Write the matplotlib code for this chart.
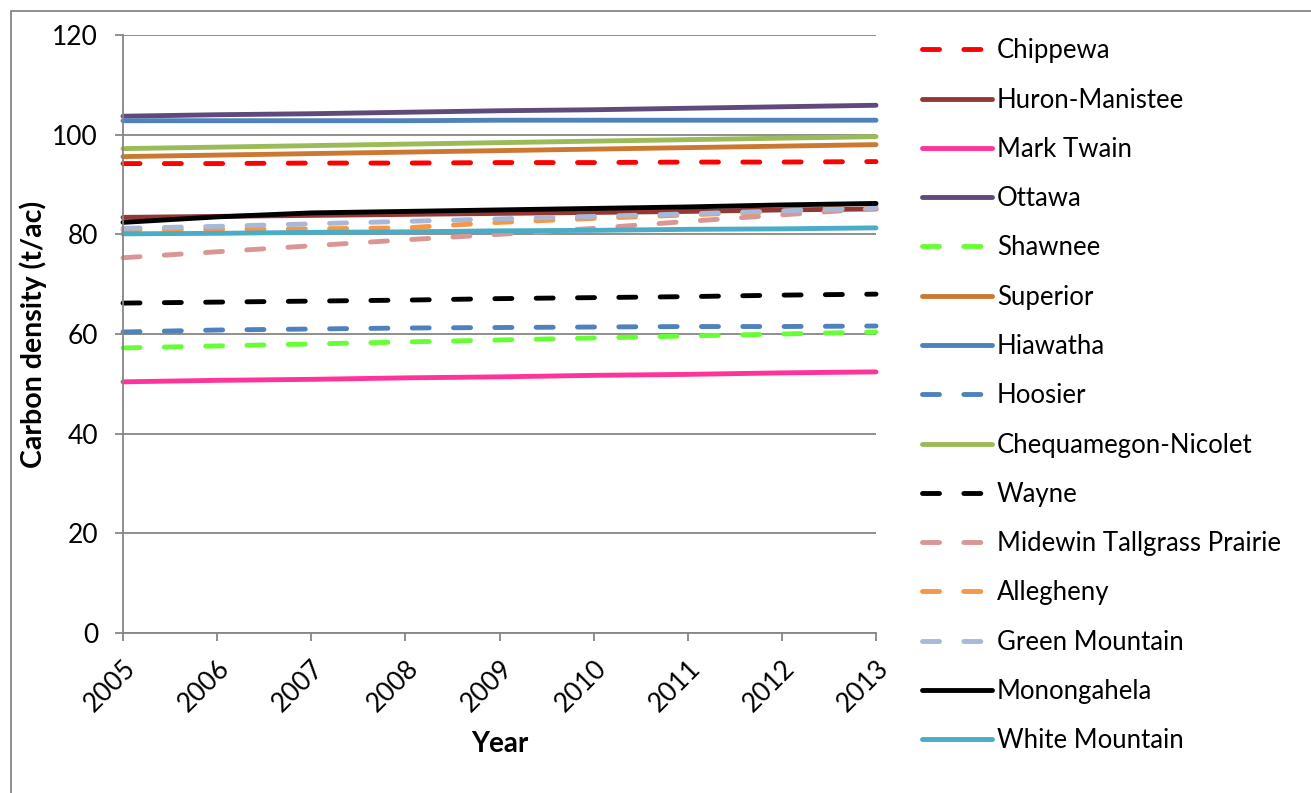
import matplotlib
matplotlib.use('Agg')
import matplotlib.pyplot as plt
from matplotlib.patches import Rectangle

plt.rcParams['font.family'] = ['Lato', 'DejaVu Sans']

years = [2005, 2006, 2007, 2008, 2009, 2010, 2011, 2012, 2013]

forests = ['Chippewa', 'Huron-Manistee', 'Mark Twain', 'Ottawa', 'Shawnee',
           'Superior', 'Hiawatha', 'Hoosier', 'Chequamegon-Nicolet', 'Wayne',
           'Midewin Tallgrass Prairie', 'Allegheny', 'Green Mountain',
           'Monongahela', 'White Mountain']

chippewa = [94.2, 94.2, 94.3, 94.3, 94.4, 94.4, 94.5, 94.5, 94.6]
huron_manistee = [83.4, 83.6, 83.8, 84.0, 84.2, 84.4, 84.6, 84.9, 85.1]
mark_twain = [50.4, 50.7, 50.9, 51.2, 51.4, 51.7, 51.9, 52.2, 52.4]
ottawa = [103.7, 104.0, 104.2, 104.5, 104.8, 105.0, 105.3, 105.6, 105.9]
shawnee = [57.2, 57.6, 58.0, 58.4, 58.8, 59.2, 59.6, 60.0, 60.4]
superior = [95.6, 95.9, 96.2, 96.5, 96.8, 97.1, 97.4, 97.7, 98.0]
hiawatha = [102.8, 102.8, 102.8, 102.8, 102.9, 102.9, 102.9, 102.9, 102.9]
hoosier = [60.4, 60.8, 61.0, 61.2, 61.3, 61.4, 61.5, 61.5, 61.6]
chequamegon = [97.2, 97.5, 97.8, 98.1, 98.4, 98.7, 99.0, 99.3, 99.6]
wayne = [66.2, 66.4, 66.6, 66.8, 67.1, 67.3, 67.5, 67.8, 68.0]
midewin = [75.3, 76.5, 77.7, 78.9, 80.0, 81.2, 82.6, 83.9, 85.2]
allegheny = [80.9, 81.0, 81.1, 81.3, 82.4, 83.2, 83.9, 84.6, 85.8]
green_mountain = [81.2, 81.6, 82.1, 82.6, 83.1, 83.6, 84.1, 84.7, 85.3]
monongahela = [82.4, 83.5, 84.3, 84.6, 84.9, 85.2, 85.5, 85.9, 86.2]
white_mountain = [80.1, 80.2, 80.4, 80.5, 80.7, 80.8, 81.0, 81.1, 81.3]

series = [chippewa, huron_manistee, mark_twain, ottawa, shawnee, superior,
          hiawatha, hoosier, chequamegon, wayne, midewin, allegheny,
          green_mountain, monongahela, white_mountain]

colors = ['#FF0000', '#953735', '#FF3399', '#604A7B', '#66FF33', '#CC7832',
          '#4F81BD', '#4F81BD', '#9BBB59', '#000000', '#D99694', '#F79646',
          '#A6B9D9', '#000000', '#4BACC6']
dashed = [True, False, False, False, True, False,
          False, True, False, True, True, True,
          True, False, False]

fig = plt.figure(figsize=(13.11, 7.93), dpi=100)
ax = fig.add_axes([123 / 1311, 1 - 633 / 793, (876 - 123) / 1311, (633 - 35) / 793])

for name, vals, c, d in zip(forests, series, colors, dashed):
    if d:
        ax.plot(years, vals, color=c, lw=3.5, dashes=(3.5, 5.0),
                dash_capstyle='round', label=name, clip_on=False)
    else:
        ax.plot(years, vals, color=c, lw=3.5, solid_capstyle='round',
                label=name, clip_on=False)

gray = '#868686'
ax.set_xlim(2005, 2013)
ax.set_ylim(0, 120)
ax.set_yticks(range(0, 121, 20))
ax.set_xticks(years)
ax.yaxis.grid(True, color=gray, lw=1.3)
ax.set_axisbelow(True)
for s in ['top', 'right']:
    ax.spines[s].set_visible(False)
for s in ['left', 'bottom']:
    ax.spines[s].set_color(gray)
    ax.spines[s].set_linewidth(1.3)
ax.tick_params(axis='both', color=gray, width=1.3, length=6, labelsize=19)
ax.tick_params(axis='y', pad=12)
ax.tick_params(axis='x', pad=10)
plt.setp(ax.get_xticklabels(), rotation=45, ha='right', rotation_mode='anchor')

ax.set_xlabel('Year', fontsize=20, fontweight='bold', labelpad=11)
ax.set_ylabel('Carbon density (t/ac)', fontsize=20.5, fontweight='bold', labelpad=4)

fig.legend(loc='upper left', bbox_to_anchor=(912 / 1311, 1 - 28 / 793),
           frameon=False, fontsize=18.5, handlelength=2.7, handletextpad=0.2,
           labelspacing=0.945, borderaxespad=0)

fig.patches.append(Rectangle((11 / 1311, -0.1), 1.2, 1.1 - 11 / 793,
                             transform=fig.transFigure, fill=False,
                             edgecolor=gray, lw=1.3))

fig.savefig('out.png', dpi=100)
